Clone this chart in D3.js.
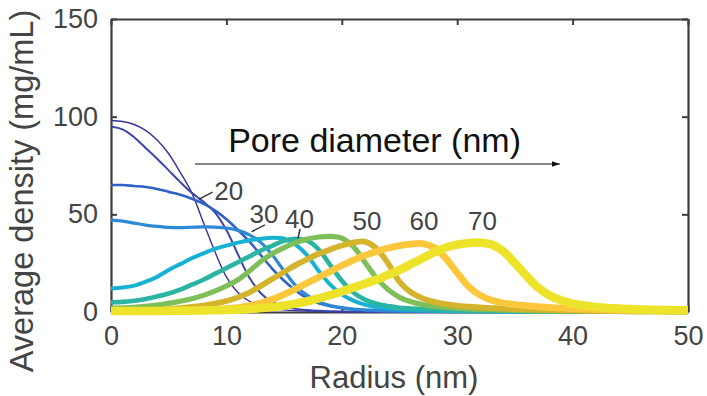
<!DOCTYPE html>
<html>
<head>
<meta charset="utf-8">
<script src="https://cdn.jsdelivr.net/npm/d3@7"></script>
<style>
  html, body { margin: 0; padding: 0; background: #fff; }
  svg { display: block; }
  text { font-family: "Liberation Sans", Arial, Helvetica, sans-serif; }
</style>
</head>
<body>
<svg id="chart" width="707" height="396"></svg>
<script>
// Radial grid (nm) shared by every density profile
const radius = [0,1,2,3,4,5,6,7,8,9,10,11,12,13,14,15,16,17,18,19,20,
  21,22,23,24,25,26,27,28,29,30,31,32,33,34,35,36,37,38,39,40,
  41,42,43,44,45,46,47,48,49,50];

// Average density (mg/mL) at each radius, one profile per pore, smallest pore first
const densityA = [98,97.5,96,93,88,81,71.5,61,46,31,18,10,5.5,3,1.8,1.1,0.7,0.5,0.3,0.2,0.15,
  0.12,0.1,0.1,0.08,0.07,0.06,0.05,0.05,0.04,0.04,0.03,0.03,0.03,0.02,0.02,0.02,0.02,0.02,0.01,0.01,
  0.01,0.01,0.01,0.01,0.01,0.01,0,0,0,0];
const densityB = [95,93.5,89.5,84,78.5,72.5,66.5,61,56.5,51,42,29.5,17.5,9.5,5,2.8,1.6,1,0.6,0.4,0.3,
  0.2,0.15,0.12,0.1,0.08,0.07,0.06,0.05,0.05,0.04,0.04,0.03,0.03,0.03,0.02,0.02,0.02,0.02,0.02,0.01,
  0.01,0.01,0.01,0.01,0.01,0.01,0.01,0,0,0];
const densityC = [65,65,64.5,64,63,61.5,60,58,55.5,52,47.5,42,36,29,22,16,11,7,4.5,2.9,1.9,
  1.3,0.9,0.6,0.45,0.35,0.3,0.25,0.2,0.18,0.15,0.13,0.12,0.1,0.09,0.08,0.07,0.06,0.06,0.05,0.05,
  0.04,0.04,0.03,0.03,0.03,0.02,0.02,0.02,0.02,0.02];
const densityD = [47,46.5,45.5,44.5,43.8,43.3,43.2,43.4,43.6,43.5,43,41.8,39.5,35.5,29,21,13.5,8.5,5.2,3.3,2.2,
  1.5,1.1,0.8,0.6,0.45,0.38,0.32,0.27,0.23,0.2,0.18,0.16,0.14,0.12,0.11,0.1,0.09,0.08,0.07,0.06,
  0.06,0.05,0.05,0.04,0.04,0.04,0.03,0.03,0.03,0.03];
const densityE = [12,12.5,13.5,15.5,18,21.5,24.5,27.5,30,32.3,34,35.5,36.7,37.5,38,37.5,34.5,29,21,14,9,
  5.8,3.8,2.6,1.9,1.4,1.1,0.85,0.7,0.55,0.45,0.4,0.35,0.3,0.27,0.24,0.21,0.19,0.17,0.15,0.14,
  0.13,0.12,0.11,0.1,0.09,0.08,0.08,0.07,0.07,0.06];
const densityF = [5,5.2,5.8,6.7,8,9.5,11.5,14,16.5,19.5,22.5,25.5,28.5,31.5,34,36.5,37.5,36.5,32,24,16,
  10,6.3,4.2,3,2.2,1.8,1.5,1.2,1,0.8,0.7,0.6,0.5,0.45,0.35,0.3,0.28,0.25,0.22,0.2,
  0.18,0.16,0.15,0.14,0.13,0.12,0.11,0.1,0.1,0.09];
const densityG = [2,2.1,2.4,2.9,3.5,4.4,5.5,6.8,8.5,10.7,13.3,16.5,21,26,30,33,35.5,37.3,38.4,38.7,37.8,
  33.5,25.5,17.5,11.5,7.5,5.2,3.8,2.9,2.3,1.9,1.6,1.3,1.15,1,0.8,0.7,0.62,0.55,0.48,0.4,
  0.36,0.32,0.28,0.25,0.2,0.18,0.16,0.14,0.12,0.1];
const densityH = [0.8,0.8,0.9,1,1.2,1.5,2,2.6,3.3,4.3,5.6,7.5,10,13.5,17,20.5,24,27,29.8,32,34,
  35.5,36,32.5,25,15.5,10,7,5.2,4,3.2,2.7,2.3,2,1.7,1.5,1.3,1.15,1,0.9,0.8,
  0.7,0.6,0.55,0.5,0.4,0.35,0.3,0.25,0.22,0.2];
const densityI = [0.3,0.3,0.35,0.4,0.45,0.5,0.6,0.8,1,1.3,1.7,2.3,3.2,4.6,6.5,9,11.8,14.8,17.8,20.8,23.8,
  26.6,29,31,32.8,34,34.8,35,33,27.5,20,13,8.5,6,4.6,3.8,3.2,2.7,2.3,2,1.7,
  1.5,1.3,1.15,1,0.9,0.8,0.7,0.6,0.55,0.5];
const densityJ = [0.5,0.5,0.5,0.5,0.55,0.6,0.65,0.7,0.8,0.9,1,1.2,1.5,2,2.5,3.3,4.3,5.5,7,8.7,10.5,
  12.5,14.5,16.5,19,21.5,24.5,27.5,30.5,33,34.5,35.3,35.5,34.5,31,25,18.5,12.5,8.5,6,4.3,
  3.3,2.6,2.1,1.8,1.5,1.3,1.15,1,0.95,0.9];

const profiles = [densityA, densityB, densityC, densityD, densityE,
                  densityF, densityG, densityH, densityI, densityJ];

// Pore diameter labels (nm)
const poreLabels = ["20", "30", "40", "50", "60", "70"];

// Axis ticks
const xTicks = [0, 10, 20, 30, 40, 50];
const yTicks = [0, 50, 100, 150];

// ---- styling ----
const lineColors = ["#3b2f98", "#3c44ae", "#2f61c6", "#2d88d6", "#17b2d3",
                    "#2cb4a3", "#7fbf59", "#d5b42d", "#fcc73a", "#ece32a"];
const lineWidths = [1.4, 2, 2.6, 3.2, 4, 4.6, 5.2, 5.8, 6.8, 8.5];
const axisColor = "#3d3d3d";
const textColor = "#444";

const svg = d3.select("#chart");
const plot = { left: 111, right: 688, top: 19, bottom: 312 };

const x = d3.scaleLinear().domain([0, 50]).range([plot.left, plot.right]);
const y = d3.scaleLinear().domain([0, 150]).range([plot.bottom, plot.top]);

// Box with inward ticks on all four sides
function styleAxis(g) {
  g.select(".domain").attr("stroke", axisColor).attr("stroke-width", 2.2);
  g.selectAll(".tick line").attr("stroke", axisColor).attr("stroke-width", 2);
  g.selectAll(".tick text").attr("fill", textColor)
    .style("font-family", '"Liberation Sans", Arial, sans-serif');
}

svg.append("g")
  .attr("transform", `translate(0,${plot.bottom})`)
  .call(d3.axisBottom(x).tickValues(xTicks).tickSizeInner(-6).tickSizeOuter(0).tickPadding(14))
  .call(styleAxis)
  .call(g => g.selectAll(".tick text").attr("font-size", 27).attr("dy", "0.71em"));

svg.append("g")
  .attr("transform", `translate(0,${plot.top})`)
  .call(d3.axisTop(x).tickValues(xTicks).tickSizeInner(-6).tickSizeOuter(0).tickFormat(""))
  .call(styleAxis);

svg.append("g")
  .attr("transform", `translate(${plot.left},0)`)
  .call(d3.axisLeft(y).tickValues(yTicks).tickSizeInner(-6).tickSizeOuter(0).tickPadding(13))
  .call(styleAxis)
  .call(g => g.selectAll(".tick text").attr("font-size", 27));

svg.append("g")
  .attr("transform", `translate(${plot.right},0)`)
  .call(d3.axisRight(y).tickValues(yTicks).tickSizeInner(-6).tickSizeOuter(0).tickFormat(""))
  .call(styleAxis);

// Axis titles
svg.append("text")
  .attr("x", 394)
  .attr("y", 388)
  .attr("text-anchor", "middle")
  .attr("font-size", 31)
  .attr("fill", textColor)
  .text("Radius (nm)");

svg.append("text")
  .attr("transform", "translate(33,191) rotate(-90)")
  .attr("text-anchor", "middle")
  .attr("font-size", 32.5)
  .attr("fill", textColor)
  .text("Average density (mg/mL)");

// Density profiles
const line = d3.line()
  .x((d, i) => x(radius[i]))
  .y(d => y(d))
  .curve(d3.curveCatmullRom.alpha(0.5));

svg.append("g")
  .selectAll("path")
  .data(profiles)
  .join("path")
  .attr("d", line)
  .attr("fill", "none")
  .attr("stroke", (d, i) => lineColors[i])
  .attr("stroke-width", (d, i) => lineWidths[i])
  .attr("stroke-linejoin", "round");

// Pore diameter annotation with arrow
svg.append("defs").append("marker")
  .attr("id", "arrowHead")
  .attr("viewBox", "0 0 10 10")
  .attr("refX", 10).attr("refY", 5)
  .attr("markerWidth", 8).attr("markerHeight", 8)
  .attr("markerUnits", "userSpaceOnUse")
  .attr("orient", "auto")
  .append("path")
  .attr("d", "M0,1.5 L10,5 L0,8.5 Z")
  .attr("fill", "#111");

svg.append("text")
  .attr("x", x(10.15))
  .attr("y", y(82))
  .attr("font-size", 34)
  .attr("fill", "#111")
  .text("Pore diameter (nm)");

svg.append("line")
  .attr("x1", x(7.28)).attr("y1", y(75.8))
  .attr("x2", x(38.9)).attr("y2", y(75.8))
  .attr("stroke", "#111")
  .attr("stroke-width", 1.1)
  .attr("marker-end", "url(#arrowHead)");

// Curve labels: text position and leader line in data units (radius, density)
const labelPlacement = [
  { r: 10.2, d: 57.3, leader: [[8.8, 61.4], [7.6, 57.7]] },
  { r: 13.26, d: 45.6, leader: [[13.34, 44.6], [12.19, 41.1]] },
  { r: 16.33, d: 43, leader: [[16.38, 42.5], [16.2, 37.6]] },
  { r: 22.18, d: 42, leader: null },
  { r: 27.12, d: 42, leader: null },
  { r: 32.19, d: 42, leader: null }
];

const labels = svg.append("g");
poreLabels.forEach((txt, i) => {
  const p = labelPlacement[i];
  labels.append("text")
    .attr("x", x(p.r))
    .attr("y", y(p.d))
    .attr("text-anchor", "middle")
    .attr("font-size", 26)
    .attr("fill", textColor)
    .text(txt);
  if (p.leader) {
    labels.append("line")
      .attr("x1", x(p.leader[0][0])).attr("y1", y(p.leader[0][1]))
      .attr("x2", x(p.leader[1][0])).attr("y2", y(p.leader[1][1]))
      .attr("stroke", "#333")
      .attr("stroke-width", 1.5);
  }
});
</script>
</body>
</html>
